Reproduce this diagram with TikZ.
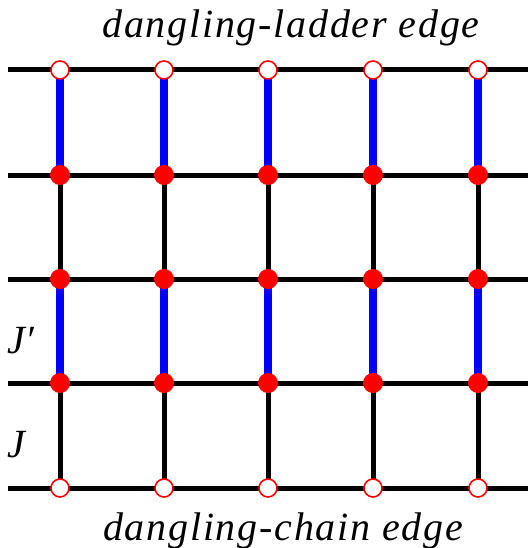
\documentclass[tikz,border=0pt]{standalone}
\usepackage{fontspec}
\setmainfont{Liberation Serif}
\newfontfamily\spacedfont[LetterSpace=4.4]{Liberation Serif}
\usetikzlibrary{backgrounds}

\tikzset{
  site/.style={circle,fill=red,inner sep=0pt,minimum size=20pt},
  edgesite/.style={circle,draw=red,fill=white,line width=1.6pt,inner sep=0pt,minimum size=18pt},
  leg/.style={line width=5pt,black},
  rung/.style={line width=8pt,blue},
  lbl/.style={font=\fontsize{40}{40}\selectfont\spacedfont\itshape,inner sep=0pt,anchor=base},
  coupling/.style={font=\fontsize{40}{40}\selectfont\itshape,inner sep=0pt,anchor=base west}
}

\begin{document}
\begin{tikzpicture}[x=1pt,y=-1pt]
    \useasboundingbox (0,0) rectangle (528,548);

    % sites, rows 1..5 from top, columns 1..5 from left
    \foreach \c/\x in {1/60,2/164,3/268,4/373,5/478}{
        \node[edgesite] (s1\c) at (\x,70) {};
        \node[site] (s2\c) at (\x,175) {};
        \node[site] (s3\c) at (\x,279) {};
        \node[site] (s4\c) at (\x,383) {};
        \node[edgesite] (s5\c) at (\x,488) {};
    }
    \foreach \r/\y in {1/70,2/175,3/279,4/383,5/488}{
        \coordinate (l\r) at (8,\y);
        \coordinate (r\r) at (528,\y);
    }

    \begin{scope}[on background layer]
        \foreach \r in {1,...,5}
            \draw[leg] (l\r)--(r\r);
        \foreach \c in {1,...,5}{
            \draw[rung] (s1\c.center)--(s2\c.center);
            \draw[leg] (s2\c.center)--(s3\c.center);
            \draw[rung] (s3\c.center)--(s4\c.center);
            \draw[leg] (s4\c.center)--(s5\c.center);
        }
    \end{scope}

    \node[lbl] (top) at (291,38) {dangling-ladder edge};
    \node[lbl] (bot) at (283,540) {dangling-chain edge};
    \node[coupling] (Jp) at (7,353) {J\kern1pt′};
    \node[coupling] (J) at (7,457) {J};
\end{tikzpicture}
\end{document}
